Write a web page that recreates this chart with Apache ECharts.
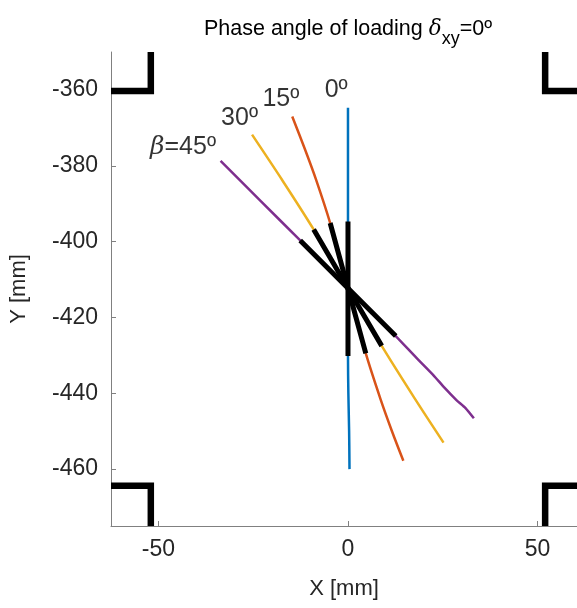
<!DOCTYPE html>
<html>
<head>
<meta charset="utf-8">
<script src="https://cdn.jsdelivr.net/npm/echarts@6/dist/echarts.min.js"></script>
<style>html,body{margin:0;padding:0;background:#fff}#c{width:577px;height:608px}</style>
</head>
<body>
<div id="c"></div>
<script>
// ---- data ----
const xTicks = [-50, 0, 50];
const yTicks = [-460, -440, -420, -400, -380, -360];
const xRange = [-62.5, 60.4];
const yRange = [-475, -350];
const line0  = [[0,-364.7],[0,-380],[0,-394.7],[0,-412.3],[0,-430.2],[0.1,-440],[0.3,-450],[0.4,-460]];
const line15 = [[-14.7,-367],[-11.4,-375.5],[-8.4,-383.7],[-4.7,-395.1],[0,-412.3],[4.7,-429.5],[8.6,-441.6],[11.6,-450],[14.6,-457.8]];
const line30 = [[-25.3,-371.8],[-17.4,-383.7],[-9.05,-396.8],[0,-412.3],[8.9,-427.5],[17.5,-441.2],[25.2,-453]];
const line45 = [[-33.6,-378.7],[-23,-389.3],[-12.6,-399.7],[0,-412.3],[12.6,-424.9],[18,-430.6],[22.5,-435.2],[25.5,-438.6],[28.6,-441.8],[31,-443.9],[33.2,-446.6]];
const black0  = [[0,-394.7],[0,-412.3],[0,-430.2]];
const black15 = [[-4.7,-395.1],[0,-412.3],[4.7,-429.5]];
const black30 = [[-9.05,-396.8],[0,-412.3],[8.9,-427.5]];
const black45 = [[-12.6,-399.7],[0,-412.3],[12.6,-424.9]];
const frameX = 52, frameTop = -360.3, frameBot = -464.4;
const cornerTL = [[-62.5,frameTop],[-frameX,frameTop],[-frameX,-350]];
const cornerTR = [[60.4,frameTop],[frameX,frameTop],[frameX,-350]];
const cornerBL = [[-62.5,frameBot],[-frameX,frameBot],[-frameX,-475]];
const cornerBR = [[60.4,frameBot],[frameX,frameBot],[frameX,-475]];
const angleLabels = [
  {value:[-3.1,-360], text:'0º'},
  {value:[-17.7,-362.4], text:'15º'},
  {value:[-28.6,-367.4], text:'30º'},
  {value:[-43.5,-375.1], text:'{b|β}=45º'}
];
const colors = {c0:'#0072BD', c15:'#D95319', c30:'#EDB120', c45:'#7E2F8E'};

const FONT = 'Liberation Sans, Arial, Helvetica, sans-serif';
const chart = echarts.init(document.getElementById('c'), null, {renderer:'canvas'});
function ln(data, color, width, z, smooth){
  return {type:'line', data, showSymbol:false, symbol:'none', smooth:smooth||false,
    lineStyle:{color, width, cap:'butt', join:'miter'}, z, silent:true, animation:false, clip:true};
}
const option = {
  animation:false,
  backgroundColor:'#fff',
  title:{
    text:'Phase angle of loading {d|δ}{s|xy}=0º',
    left:343, top:5, textAlign:'center',
    textStyle:{
      fontFamily:FONT, fontSize:21.5, fontWeight:'normal', color:'#000',
      rich:{
        d:{fontFamily:'DejaVu Serif, serif', fontStyle:'italic', fontSize:21.5, color:'#000'},
        s:{fontFamily:FONT, fontSize:18, color:'#000', verticalAlign:'bottom', padding:[20,0,0,0]}
      }
    }
  },
  grid:{left:110, top:52, width:467, height:474, containLabel:false},
  xAxis:{
    type:'value', min:xRange[0], max:xRange[1],
    name:'X [mm]', nameLocation:'middle', nameGap:52,
    nameTextStyle:{fontFamily:FONT, fontSize:22, color:'#262626'},
    axisLine:{show:true, onZero:false, lineStyle:{color:'#808080', width:1}},
    axisTick:{show:true, inside:true, length:5, customValues:xTicks, lineStyle:{color:'#808080'}},
    axisLabel:{show:true, customValues:xTicks, margin:12, fontFamily:FONT, fontSize:23, color:'#262626'},
    splitLine:{show:false}
  },
  yAxis:{
    type:'value', min:yRange[0], max:yRange[1],
    name:'Y [mm]', nameLocation:'middle', nameGap:81, nameRotate:90,
    nameTextStyle:{fontFamily:FONT, fontSize:22, color:'#262626'},
    axisLine:{show:true, onZero:false, lineStyle:{color:'#808080', width:1}},
    axisTick:{show:true, inside:true, length:5, customValues:yTicks, lineStyle:{color:'#808080'}},
    axisLabel:{show:true, customValues:yTicks, margin:13, fontFamily:FONT, fontSize:23, color:'#262626'},
    splitLine:{show:false}
  },
  series:[
    ln(cornerTL,'#000',6.5,5), ln(cornerTR,'#000',6.5,5), ln(cornerBL,'#000',6.5,5), ln(cornerBR,'#000',6.5,5),
    ln(line0, colors.c0, 2.5, 3, 0.3),
    ln(line15, colors.c15, 2.5, 3, 0.3),
    ln(line30, colors.c30, 2.5, 3, 0.3),
    ln(line45, colors.c45, 2.5, 3, 0.2),
    ln(black0,'#000',5,6), ln(black15,'#000',5,6), ln(black30,'#000',5,6), ln(black45,'#000',5,6),
    {
      type:'scatter', symbolSize:0, silent:true, z:8,
      data:angleLabels.map(d=>({value:d.value, text:d.text})),
      label:{
        show:true, position:'inside',
        formatter:p=>p.data.text,
        fontFamily:FONT, fontSize:25, color:'#000',
        rich:{b:{fontFamily:'DejaVu Serif, serif', fontStyle:'italic', fontSize:25, color:'#000'}}
      }
    }
  ]
};
chart.setOption(option);
</script>
</body>
</html>
